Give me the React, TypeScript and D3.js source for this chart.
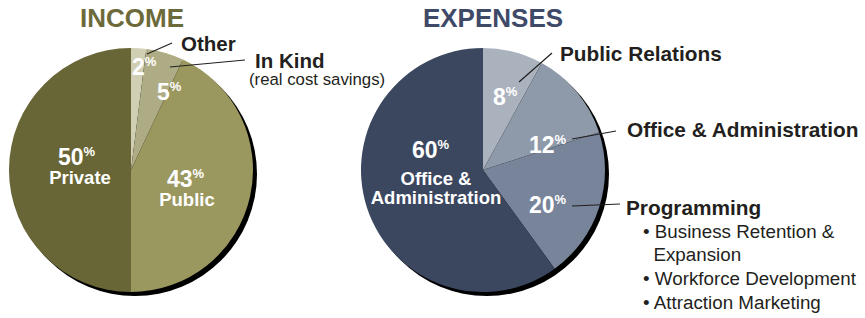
import React from 'react';
import * as d3 from 'd3';

// income
const incomeNames = ['Other', 'In Kind', 'Public', 'Private'];
const incomeValues = [2, 5, 43, 50];
const incomeColors = ['#d0ceb3', '#aeac85', '#9a975f', '#686536'];

// expenses
const expenseNames = ['Public Relations', 'Office & Administration', 'Programming', 'Office & Administration'];
const expenseValues = [8, 12, 20, 60];
const expenseColors = ['#aab2be', '#8e99a9', '#77849a', '#3b475f'];

const programmingItems = ['Business Retention &', 'Expansion', 'Workforce Development', 'Attraction Marketing'];
const programmingBullets = [true, false, true, true];

const W = 865;
const H = 318;
const R = 122;
const FONT = '"Liberation Sans", Arial, Helvetica, sans-serif';

// label layout, offsets from pie centre (dx = left of digits, dy = baseline)
const incomeLabelPos = [
  { dx: 1, dy: -95, name: null },
  { dx: 26, dy: -70, name: null },
  { dx: 36, dy: 17, name: ['Public'], nameX: 56, nameDy: 19 },
  { dx: -73, dy: -5, name: ['Private'], nameX: -51, nameDy: 19 },
];
const expenseLabelPos = [
  { dx: 10, dy: -65, name: null },
  { dx: 46, dy: -17, name: null },
  { dx: 46, dy: 43, name: null },
  { dx: -71, dy: -12, name: ['Office &', 'Administration'], nameX: -47, nameDy: 27 },
];

const pie = d3.pie<number>().sort(null).value(d => d);
const arc = d3.arc<d3.PieArcDatum<number>>().innerRadius(0).outerRadius(R);

const Pct = ({ x, y, v }: { x: number; y: number; v: number }) => (
  <text x={x} y={y} fill="#fff" fontWeight="bold" fontFamily={FONT}>
    <tspan fontSize={23}>{v}</tspan>
    <tspan fontSize={13} dy={-9}>%</tspan>
  </text>
);

const Pie = ({ cx, cy, values, colors, labels }: any) => {
  const arcs = pie(values);
  return (
    <g transform={`translate(${cx},${cy})`}>
      <circle cx={4} cy={4} r={R} fill="#000" />
      {arcs.map((a, i) => (
        <path key={i} d={arc(a) || ''} fill={colors[i]} />
      ))}
      {arcs.map((a, i) => {
        const p = labels[i];
        return (
          <g key={'l' + i}>
            <Pct x={p.dx} y={p.dy} v={values[i]} />
            {p.name &&
              p.name.map((n: string, j: number) => (
                <text
                  key={j}
                  x={p.nameX}
                  y={p.dy + p.nameDy + j * 19}
                  textAnchor="middle"
                  fill="#fff"
                  fontWeight="bold"
                  fontSize={18.5}
                  fontFamily={FONT}
                >
                  {n}
                </text>
              ))}
          </g>
        );
      })}
    </g>
  );
};

const leader = (x1: number, y1: number, x2: number, y2: number) => (
  <line x1={x1} y1={y1} x2={x2} y2={y2} stroke="#231f20" strokeWidth={1.2} />
);

export default function App() {
  const ic = { x: 131, y: 170 };
  const ec = { x: 483, y: 170 };
  const lab = { fill: '#231f20', fontFamily: FONT, fontWeight: 'bold' as const, fontSize: 20.8 };
  return (
    <svg width={W} height={H} style={{ position: 'absolute', left: 0, top: 0, background: '#fff' }}>
      <text x={132} y={27} textAnchor="middle" fill="#6d6a3a" fontWeight="bold" fontSize={26} fontFamily={FONT}>
        INCOME
      </text>
      <text x={493} y={27} textAnchor="middle" fill="#3e4a68" fontWeight="bold" fontSize={26} fontFamily={FONT}>
        EXPENSES
      </text>

      <Pie cx={ic.x} cy={ic.y} values={incomeValues} colors={incomeColors} labels={incomeLabelPos} />
      <Pie cx={ec.x} cy={ec.y} values={expenseValues} colors={expenseColors} labels={expenseLabelPos} />

      {/* income callouts */}
      {leader(147, 54, 172, 43)}
      {leader(170, 67, 245, 60)}
      <text x={181} y={51} {...lab} fontSize={20.5}>{incomeNames[0]}</text>
      <text x={255} y={68} {...lab} fontSize={20.5}>{incomeNames[1]}</text>
      <text x={249} y={85} fill="#231f20" fontSize={16.8} fontFamily={FONT}>(real cost savings)</text>

      {/* expense callouts */}
      {leader(519, 82, 552, 53)}
      {leader(572, 139, 616, 131)}
      {leader(572, 206, 620, 204)}
      <text x={560} y={61} {...lab}>{expenseNames[0]}</text>
      <text x={627} y={137} {...lab}>{expenseNames[1]}</text>
      <text x={626} y={215} {...lab}>{expenseNames[2]}</text>
      {programmingItems.map((t, i) => (
        <text key={t} x={643} y={238 + i * 24 - (i > 0 ? 1 : 0)} fill="#231f20" fontSize={18.8} fontFamily={FONT}>
          {programmingBullets[i] ? '• ' : '\u00a0\u00a0'}
          {t}
        </text>
      ))}
    </svg>
  );
}
